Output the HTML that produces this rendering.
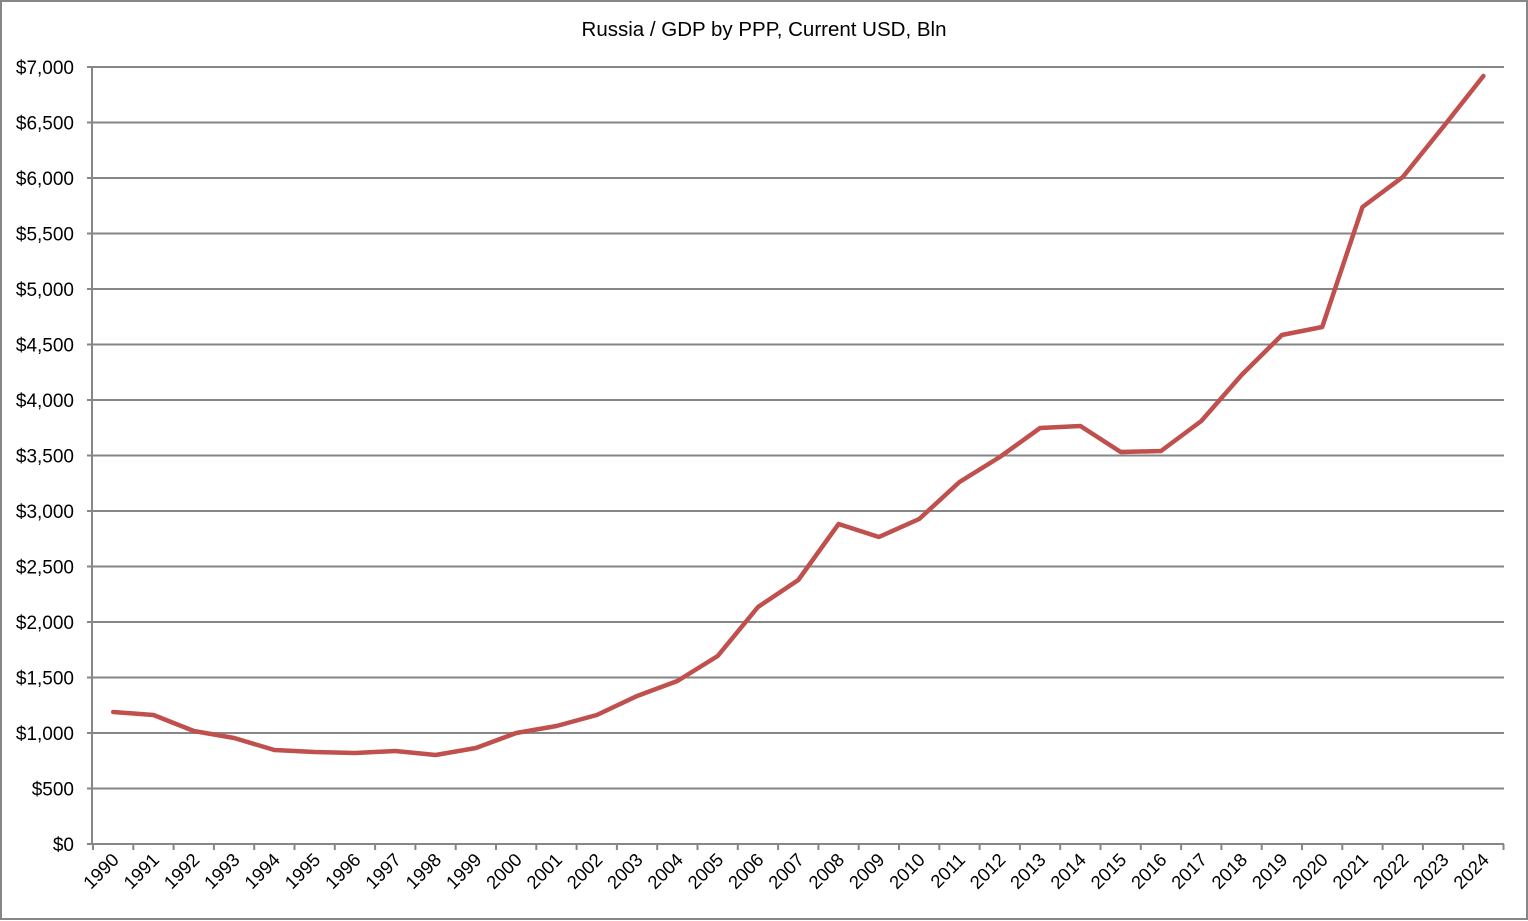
<!DOCTYPE html>
<html><head><meta charset="utf-8"><style>
html,body{margin:0;padding:0;background:#fff}
svg{display:block;font-family:"Liberation Sans",sans-serif}
</style></head><body>
<svg width="1528" height="921" viewBox="0 0 1528 921">
<rect x="1" y="1" width="1526" height="918" fill="#fff" stroke="#868686" stroke-width="2"/>
<text x="764" y="36" text-anchor="middle" font-size="20.5" fill="#000">Russia / GDP by PPP, Current USD, Bln</text>
<g stroke="#868686" stroke-width="2">
<line x1="87" y1="67" x2="1504" y2="67"/><line x1="87" y1="122.5" x2="1504" y2="122.5"/><line x1="87" y1="178" x2="1504" y2="178"/><line x1="87" y1="233.5" x2="1504" y2="233.5"/><line x1="87" y1="289" x2="1504" y2="289"/><line x1="87" y1="344.5" x2="1504" y2="344.5"/><line x1="87" y1="400" x2="1504" y2="400"/><line x1="87" y1="455.5" x2="1504" y2="455.5"/><line x1="87" y1="511" x2="1504" y2="511"/><line x1="87" y1="566.5" x2="1504" y2="566.5"/><line x1="87" y1="622" x2="1504" y2="622"/><line x1="87" y1="677.5" x2="1504" y2="677.5"/><line x1="87" y1="733" x2="1504" y2="733"/><line x1="87" y1="788.5" x2="1504" y2="788.5"/><line x1="87" y1="844" x2="1504" y2="844"/>
<line x1="92" y1="67" x2="92" y2="844"/>
<path d="M93 844v6M133.3 844v6M173.6 844v6M213.9 844v6M254.2 844v6M294.5 844v6M334.8 844v6M375.1 844v6M415.4 844v6M455.7 844v6M496 844v6M536.3 844v6M576.6 844v6M616.9 844v6M657.2 844v6M697.5 844v6M737.8 844v6M778.1 844v6M818.4 844v6M858.7 844v6M899 844v6M939.3 844v6M979.6 844v6M1019.9 844v6M1060.2 844v6M1100.5 844v6M1140.8 844v6M1181.1 844v6M1221.4 844v6M1261.7 844v6M1302 844v6M1342.3 844v6M1382.6 844v6M1422.9 844v6M1463.2 844v6M1503.5 844v6"/>
</g>
<g font-size="19" fill="#000" text-anchor="end">
<text x="74" y="74">$7,000</text><text x="74" y="129.5">$6,500</text><text x="74" y="185">$6,000</text><text x="74" y="240.5">$5,500</text><text x="74" y="296">$5,000</text><text x="74" y="351.5">$4,500</text><text x="74" y="407">$4,000</text><text x="74" y="462.5">$3,500</text><text x="74" y="518">$3,000</text><text x="74" y="573.5">$2,500</text><text x="74" y="629">$2,000</text><text x="74" y="684.5">$1,500</text><text x="74" y="740">$1,000</text><text x="74" y="795.5">$500</text><text x="74" y="851">$0</text>
</g>
<g font-size="18.5" fill="#000" text-anchor="end">
<text transform="translate(120,861) rotate(-45)">1990</text><text transform="translate(160.3,861) rotate(-45)">1991</text><text transform="translate(200.6,861) rotate(-45)">1992</text><text transform="translate(240.9,861) rotate(-45)">1993</text><text transform="translate(281.2,861) rotate(-45)">1994</text><text transform="translate(321.5,861) rotate(-45)">1995</text><text transform="translate(361.8,861) rotate(-45)">1996</text><text transform="translate(402.1,861) rotate(-45)">1997</text><text transform="translate(442.4,861) rotate(-45)">1998</text><text transform="translate(482.7,861) rotate(-45)">1999</text><text transform="translate(523,861) rotate(-45)">2000</text><text transform="translate(563.3,861) rotate(-45)">2001</text><text transform="translate(603.6,861) rotate(-45)">2002</text><text transform="translate(643.9,861) rotate(-45)">2003</text><text transform="translate(684.2,861) rotate(-45)">2004</text><text transform="translate(724.5,861) rotate(-45)">2005</text><text transform="translate(764.8,861) rotate(-45)">2006</text><text transform="translate(805.1,861) rotate(-45)">2007</text><text transform="translate(845.4,861) rotate(-45)">2008</text><text transform="translate(885.7,861) rotate(-45)">2009</text><text transform="translate(926,861) rotate(-45)">2010</text><text transform="translate(966.3,861) rotate(-45)">2011</text><text transform="translate(1006.6,861) rotate(-45)">2012</text><text transform="translate(1046.9,861) rotate(-45)">2013</text><text transform="translate(1087.2,861) rotate(-45)">2014</text><text transform="translate(1127.5,861) rotate(-45)">2015</text><text transform="translate(1167.8,861) rotate(-45)">2016</text><text transform="translate(1208.1,861) rotate(-45)">2017</text><text transform="translate(1248.4,861) rotate(-45)">2018</text><text transform="translate(1288.7,861) rotate(-45)">2019</text><text transform="translate(1329,861) rotate(-45)">2020</text><text transform="translate(1369.3,861) rotate(-45)">2021</text><text transform="translate(1409.6,861) rotate(-45)">2022</text><text transform="translate(1449.9,861) rotate(-45)">2023</text><text transform="translate(1490.2,861) rotate(-45)">2024</text>
</g>
<polyline fill="none" stroke="#c0504d" stroke-width="4.5" stroke-linejoin="round" stroke-linecap="round" points="113.2,712 153.5,715 193.8,731 234.1,738 274.4,750 314.7,752 355,753 395.3,751 435.6,755 475.9,748 516.2,733 556.5,726 596.8,715 637.1,696 677.4,681 717.7,656 758,607 798.3,580 838.6,524 878.9,537 919.2,519 959.5,482 999.8,457 1040.1,428 1080.4,426 1120.7,452 1161,451 1201.3,421 1241.6,375 1281.9,335 1322.2,327 1362.5,207 1402.8,177 1443.1,127 1483.4,76"/>
</svg>
</body></html>
